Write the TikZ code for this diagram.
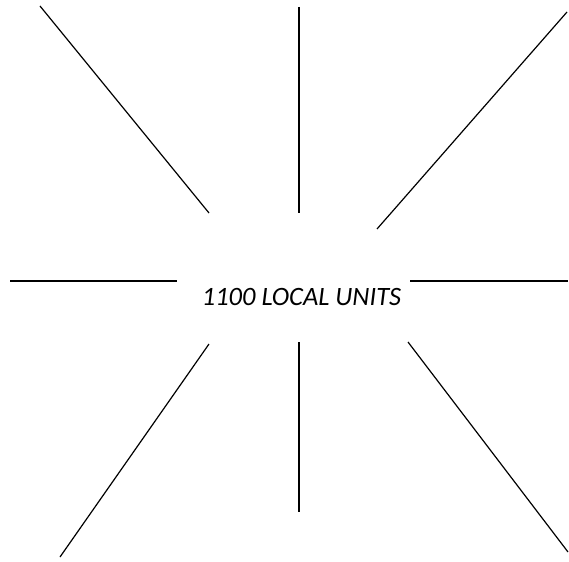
\documentclass[tikz,border=0pt]{standalone}
\usepackage{fontspec}
\setmainfont{Carlito}
\usetikzlibrary{positioning}

\begin{document}
\begin{tikzpicture}[
    x=1pt, y=-1pt,
    ray/.style={draw=black,line width=1.2pt},
    lbl/.style={font=\itshape\fontsize{26.5}{31}\selectfont,inner sep=0pt,anchor=base},
  ]
  \useasboundingbox (0,0) rectangle (569,561);
  % Centre label
  \node[lbl] (units) at (301.5,305) {1100 LOCAL UNITS};
  % Upper rays
  \coordinate (tlA) at (40,6);    \coordinate (tlB) at (209,213);
  \coordinate (tcA) at (299,7);   \coordinate (tcB) at (299,213);
  \coordinate (trA) at (567,12);  \coordinate (trB) at (377,229);
  \draw[ray] (tlA) -- (tlB);
  \draw[ray] (tcA) -- (tcB);
  \draw[ray] (trA) -- (trB);
  % Side rays
  \coordinate (lA) at (10,281);   \coordinate (lB) at (177,281);
  \coordinate (rA) at (410,281);  \coordinate (rB) at (568,281);
  \draw[ray] (lA) -- (lB);
  \draw[ray] (rA) -- (rB);
  % Lower rays
  \coordinate (blA) at (209,344); \coordinate (blB) at (60,557);
  \coordinate (bcA) at (299,342); \coordinate (bcB) at (299,512);
  \coordinate (brA) at (408,342); \coordinate (brB) at (568,552);
  \draw[ray] (blA) -- (blB);
  \draw[ray] (bcA) -- (bcB);
  \draw[ray] (brA) -- (brB);
\end{tikzpicture}
\end{document}
